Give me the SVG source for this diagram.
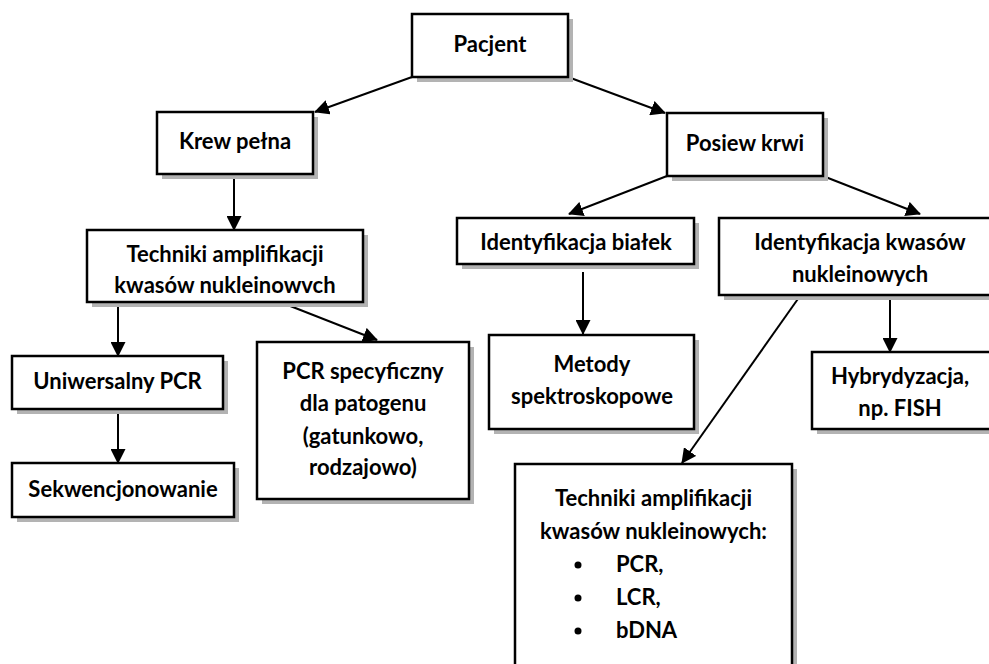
<svg xmlns="http://www.w3.org/2000/svg" width="989" height="664" viewBox="0 0 989 664">
<style>
.sh{fill:#b3b3b3}
.bx{fill:#fff;stroke:#000;stroke-width:2.5}
.t{font-family:Lato,"Liberation Sans",sans-serif;font-weight:bold;font-size:22px;fill:#000;text-anchor:middle}
.tl{font-family:Lato,"Liberation Sans",sans-serif;font-weight:bold;font-size:22px;fill:#000}
.c{stroke:#000;stroke-width:2;fill:none;marker-end:url(#ah)}
</style>
<defs>
<marker id="ah" viewBox="0 0 15 15" refX="14" refY="7.5" markerWidth="15" markerHeight="15" markerUnits="userSpaceOnUse" orient="auto">
<path d="M0,0 L15,7.5 L0,15 Z" fill="#000"/>
</marker>
</defs>
<rect width="989" height="664" fill="#fff"/>
<g id="connectors">
<line class="c" x1="412" y1="77" x2="315" y2="112"/>
<line class="c" x1="568" y1="77" x2="665" y2="113"/>
<line class="c" x1="234" y1="174" x2="234" y2="230"/>
<line class="c" x1="118" y1="302" x2="118" y2="356"/>
<line class="c" x1="118" y1="409" x2="118" y2="463"/>
<line class="c" x1="280" y1="302" x2="377" y2="340"/>
<line class="c" x1="667" y1="176" x2="569" y2="214"/>
<line class="c" x1="823" y1="176" x2="920" y2="214"/>
<line class="c" x1="583" y1="272" x2="583" y2="334"/>
<line class="c" x1="890" y1="296" x2="890" y2="352"/>
<line class="c" x1="800" y1="296" x2="682" y2="463"/>
</g>
<g id="pacjent">
<rect class="sh" x="417" y="19" width="156" height="63"/>
<rect class="bx" x="412" y="14" width="156" height="63"/>
<text class="t" x="490" y="52">Pacjent</text>
</g>
<g id="krew">
<rect class="sh" x="162" y="117" width="156" height="62"/>
<rect class="bx" x="157" y="112" width="156" height="62"/>
<text class="t" x="235" y="149">Krew pełna</text>
</g>
<g id="posiew">
<rect class="sh" x="672" y="118" width="156" height="63"/>
<rect class="bx" x="667" y="113" width="156" height="63"/>
<text class="t" x="745" y="151">Posiew krwi</text>
</g>
<g id="techniki1">
<rect class="sh" x="92" y="235" width="276" height="72"/>
<rect class="bx" x="87" y="230" width="276" height="72"/>
<text class="t" x="225" y="262">Techniki amplifikacji</text>
<text class="t" x="225" y="293">kwasów nukleinowvch</text>
</g>
<g id="uniwersalny">
<rect class="sh" x="17" y="361" width="211" height="53"/>
<rect class="bx" x="12" y="356" width="211" height="53"/>
<text class="t" x="117.5" y="389">Uniwersalny PCR</text>
</g>
<g id="sekwencjonowanie">
<rect class="sh" x="17" y="468" width="222" height="54"/>
<rect class="bx" x="12" y="463" width="222" height="54"/>
<text class="t" x="123" y="497">Sekwencjonowanie</text>
</g>
<g id="pcrspec">
<rect class="sh" x="262" y="347" width="212" height="157"/>
<rect class="bx" x="257" y="342" width="212" height="157"/>
<text class="t" x="363" y="379">PCR specyficzny</text>
<text class="t" x="363" y="411">dla patogenu</text>
<text class="t" x="363" y="444">(gatunkowo,</text>
<text class="t" x="363" y="475">rodzajowo)</text>
</g>
<g id="bialek">
<rect class="sh" x="462" y="223" width="237" height="46"/>
<rect class="bx" x="457" y="218" width="237" height="46"/>
<text class="t" x="576" y="250">Identyfikacja białek</text>
</g>
<g id="kwasow">
<rect class="sh" x="724" y="223" width="280" height="77"/>
<rect class="bx" x="719" y="218" width="280" height="77"/>
<text class="t" x="860" y="250">Identyfikacja kwasów</text>
<text class="t" x="860" y="282">nukleinowych</text>
</g>
<g id="metody">
<rect class="sh" x="494" y="340" width="205" height="94"/>
<rect class="bx" x="489" y="335" width="205" height="94"/>
<text class="t" x="592" y="372">Metody</text>
<text class="t" x="592" y="404">spektroskopowe</text>
</g>
<g id="hybrydyzacja">
<rect class="sh" x="817" y="357" width="190" height="77"/>
<rect class="bx" x="812" y="352" width="190" height="77"/>
<text class="t" x="900" y="384">Hybrydyzacja,</text>
<text class="t" x="900" y="416">np. FISH</text>
</g>
<g id="techniki2">
<rect class="sh" x="520" y="469" width="277" height="210"/>
<rect class="bx" x="515" y="464" width="277" height="210"/>
<text class="t" x="653.5" y="506">Techniki amplifikacji</text>
<text class="t" x="653.5" y="539">kwasów nukleinowych:</text>
<circle cx="578" cy="565" r="3.5" fill="#000"/>
<circle cx="578" cy="598" r="3.5" fill="#000"/>
<circle cx="578" cy="631" r="3.5" fill="#000"/>
<text class="tl" x="616" y="572">PCR,</text>
<text class="tl" x="616" y="605">LCR,</text>
<text class="tl" x="616" y="638">bDNA</text>
</g>
</svg>
